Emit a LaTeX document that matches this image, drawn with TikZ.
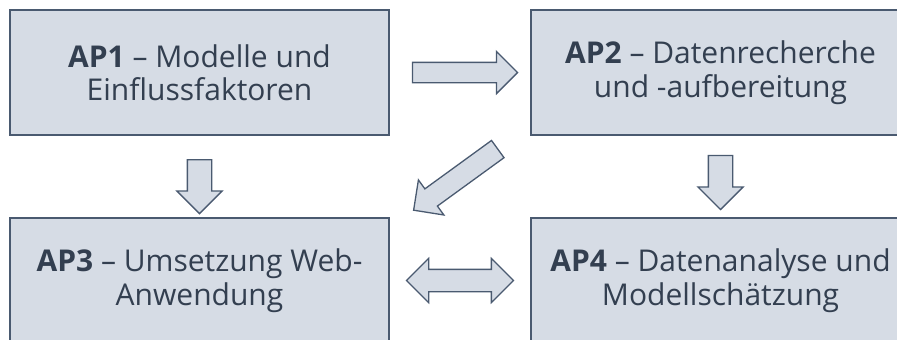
\documentclass[tikz,border=0pt]{standalone}
\usepackage{fontspec}
\setmainfont{Open Sans}
\usetikzlibrary{shapes.arrows,calc}
\definecolor{apfill}{HTML}{D6DCE5}
\definecolor{apline}{HTML}{4A5A70}
\definecolor{aptext}{HTML}{333F50}
\begin{document}
\begin{tikzpicture}[x=1pt,y=-1pt,
  ap/.style={draw=apline,fill=apfill,line width=1.5pt,minimum width=379pt,minimum height=125pt,inner sep=0pt,align=center,text=aptext,font=\fontsize{30}{33.5}\selectfont},
  arr/.style={single arrow,draw=apline,fill=apfill,line width=1.3pt,inner xsep=0pt,single arrow head indent=0pt},
  dblarr/.style={double arrow,draw=apline,fill=apfill,line width=1.3pt,inner xsep=0pt,double arrow head indent=0pt}]
\useasboundingbox (0,0) rectangle (897,340);\clip (0,0) rectangle (897,340);
\node[ap] (ap1) at (199.5,72.5) {\textbf{AP1} – Modelle und\\Einflussfaktoren};
\node[ap] (ap2) at (720.5,72.5) {\textbf{AP2} – Datenrecherche\\und -aufbereitung};
\node[ap] (ap3) at (199.5,280.5) {\textbf{AP3} – Umsetzung Web-\\Anwendung};
\node[ap] (ap4) at (720.5,280.5) {\textbf{AP4} – Datenanalyse und\\Modellschätzung};
% Pfeile zwischen den Arbeitspaketen
\node[arr,inner ysep=9.5pt,single arrow head extend=11pt,minimum height=105pt] (a12) at ($(ap1.east)!.5!(ap2.west)$) {};
\node[arr,inner ysep=11.5pt,single arrow head extend=10.5pt,minimum height=54pt,rotate=-90] (a13) at ($(ap1.south)!.55!(ap3.north)$) {};
\node[arr,inner ysep=11.5pt,single arrow head extend=10.5pt,minimum height=54pt,rotate=-90] (a24) at ($(ap2.south)!.5!(ap4.north)$) {};
\node[arr,inner ysep=10pt,single arrow head extend=11pt,minimum height=104pt,rotate=216] (a23) at ($(ap2.south west)!.5!(ap3.north east)$) {};
\node[dblarr,inner ysep=10.5pt,double arrow head extend=11pt,minimum height=107pt] (a34) at ($(ap3.east)!.5!(ap4.west)$) {};
\end{tikzpicture}
\end{document}
